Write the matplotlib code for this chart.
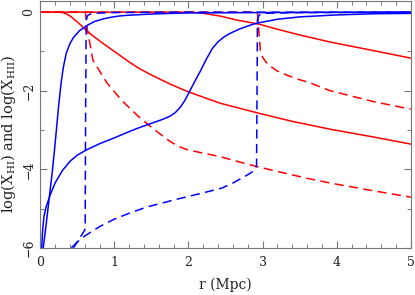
import numpy as np
import matplotlib
matplotlib.use('Agg')
import matplotlib.pyplot as plt
from matplotlib.ticker import MultipleLocator

plt.rcParams['font.family'] = ['DejaVu Serif']
plt.rcParams['mathtext.fontset'] = 'dejavuserif'

# inner front, X_HI (solid blue, steep)
hi_a_r = [0.04, 0.08, 0.12, 0.16, 0.19, 0.22, 0.25, 0.28, 0.31, 0.35, 0.40, 0.45, 0.53, 0.63, 0.73, 0.85, 0.98, 1.1, 1.26, 1.6, 2.0, 3.0, 5.0]
hi_a_v = [-6.0, -5.4, -4.75, -4.1, -3.55, -2.95, -2.35, -1.82, -1.42, -1.05, -0.8, -0.64, -0.47, -0.34, -0.24, -0.17, -0.12, -0.09, -0.07, -0.04, -0.02, -0.01, 0.0]

# outer front, X_HI (solid blue with bump)
hi_b_r = [0.02, 0.03, 0.05, 0.08, 0.135, 0.2, 0.3, 0.4, 0.5, 0.63, 0.8, 1.0, 1.2, 1.35, 1.5, 1.65, 1.75, 1.82, 1.89, 1.95, 2.0, 2.08, 2.16, 2.24, 2.32, 2.4, 2.48, 2.56, 2.7, 2.85, 2.95, 3.2, 3.5, 4.0, 4.5, 5.0]
hi_b_v = [-6.0, -5.6, -5.2, -4.95, -4.65, -4.35, -4.03, -3.8, -3.64, -3.5, -3.35, -3.2, -3.04, -2.93, -2.83, -2.73, -2.65, -2.56, -2.42, -2.25, -2.07, -1.78, -1.5, -1.2, -0.93, -0.75, -0.63, -0.54, -0.42, -0.32, -0.27, -0.18, -0.12, -0.07, -0.04, -0.03]

# X_HII solid red curves
hii_a_r = [0.0, 0.25, 0.3, 0.35, 0.42, 0.53, 0.63, 0.75, 0.85, 1.0, 1.2, 1.35, 1.5, 1.75, 2.0, 2.43, 2.94, 3.4, 3.91, 4.5, 5.0]
hii_a_v = [0.0, 0.0, -0.01, -0.04, -0.12, -0.3, -0.48, -0.66, -0.8, -1.0, -1.27, -1.45, -1.6, -1.83, -2.03, -2.32, -2.57, -2.78, -2.98, -3.18, -3.36]

hii_b_r = [0.0, 2.05, 2.2, 2.43, 2.65, 2.94, 3.23, 3.5, 3.91, 4.5, 5.0]
hii_b_v = [0.0, 0.0, -0.03, -0.1, -0.2, -0.3, -0.45, -0.58, -0.76, -0.98, -1.17]

# dashed X_HI curves
hi_c_r = [0.42, 0.5, 0.55, 0.6, 0.606, 0.612, 0.62, 0.64, 0.7, 1.0, 2.0, 5.0]
hi_c_v = [-6.0, -5.85, -5.7, -5.55, -5.5, -2.5, -0.2, -0.08, -0.03, -0.01, 0.0, 0.0]

hi_d_r = [0.45, 0.5, 0.6, 0.7, 0.81, 1.0, 1.2, 1.44, 1.85, 2.2, 2.45, 2.6, 2.79, 2.9, 2.918, 2.925, 2.93, 2.95, 3.0, 3.5, 5.0]
hi_d_v = [-6.0, -5.85, -5.7, -5.58, -5.45, -5.27, -5.12, -4.96, -4.76, -4.6, -4.48, -4.35, -4.15, -4.02, -3.9, -2.0, -0.2, -0.08, -0.03, -0.01, 0.0]

# dashed X_HII curves
hii_c_r = [0.0, 0.61, 0.62, 0.64, 0.67, 0.71, 0.8, 0.9, 1.1, 1.35, 1.5, 1.65, 1.75, 1.85, 1.92, 2.0, 2.2, 2.43, 2.7, 2.92, 3.3, 3.6, 3.91, 4.5, 5.0]
hii_c_v = [0.0, 0.0, -0.2, -0.5, -0.8, -1.22, -1.5, -1.8, -2.25, -2.7, -2.93, -3.15, -3.29, -3.4, -3.46, -3.51, -3.59, -3.68, -3.82, -3.93, -4.1, -4.23, -4.35, -4.55, -4.71]

hii_d_r = [0.0, 2.93, 2.95, 2.97, 3.0, 3.05, 3.1, 3.2, 3.35, 3.5, 3.64, 3.91, 4.04, 4.5, 5.0]
hii_d_v = [0.0, 0.0, -0.5, -1.0, -1.15, -1.28, -1.37, -1.5, -1.62, -1.72, -1.8, -2.0, -2.06, -2.28, -2.47]

fig = plt.figure(figsize=(4.15, 2.95), dpi=100)
ax = fig.add_axes([0.097, 0.16, 0.893, 0.836])

lw = 1.1
dash = (6, 3.5)
ax.plot(hii_a_r, hii_a_v, color='#ff0000', lw=lw)
ax.plot(hii_b_r, hii_b_v, color='#ff0000', lw=lw)
ax.plot(hii_c_r, hii_c_v, color='#ff0000', lw=lw, dashes=dash)
ax.plot(hii_d_r, hii_d_v, color='#ff0000', lw=lw, dashes=dash)
ax.plot(hi_a_r, hi_a_v, color='#0000ff', lw=lw)
ax.plot(hi_b_r, hi_b_v, color='#0000ff', lw=lw)
ax.plot(hi_c_r, hi_c_v, color='#0000ff', lw=lw, dashes=dash)
ax.plot(hi_d_r, hi_d_v, color='#0000ff', lw=lw, dashes=dash)

ax.set_xlim(0, 5)
ax.set_ylim(-6, 0.28)
ax.xaxis.set_major_locator(MultipleLocator(1))
ax.xaxis.set_minor_locator(MultipleLocator(0.2))
ax.yaxis.set_minor_locator(MultipleLocator(1))
ax.tick_params(which='both', direction='in', top=True, right=True, colors='#777777',
               labelcolor='#222222', labelsize=9)
ax.tick_params(which='major', length=5, width=0.8)
ax.tick_params(which='minor', length=3, width=0.7)
ax.tick_params(axis='x', pad=6)
for s in ax.spines.values():
    s.set_color('#777777')
    s.set_linewidth(0.8)

ax.set_yticks([-6, -4, -2, 0])
ax.set_yticklabels(['\u22126', '\u22124', '\u22122', '0'], rotation=90, va='center')
ax.set_xlabel('r (Mpc)', fontsize=10, color='#222222', labelpad=6)
ax.set_ylabel(r'log(X$_{\mathrm{HI}}$) and log(X$_{\mathrm{HII}}$)', fontsize=10.5,
              color='#222222')
ax.yaxis.set_label_coords(-0.06, 0.46)

fig.savefig('out.png', dpi=100)
